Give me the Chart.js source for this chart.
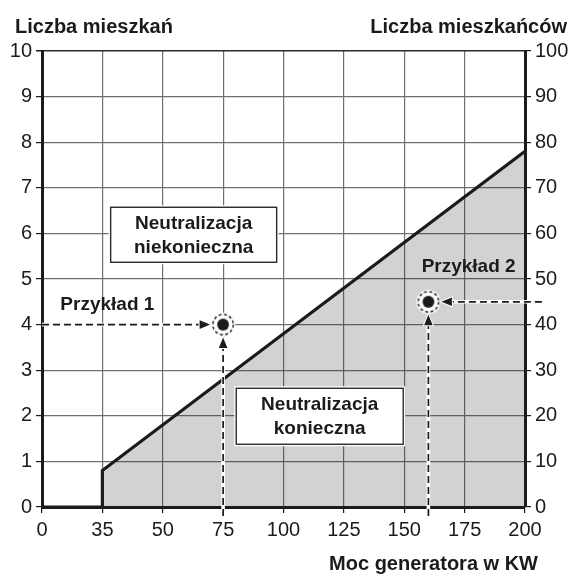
<!DOCTYPE html>
<html>
<head>
<meta charset="utf-8">
<script src="https://cdn.jsdelivr.net/npm/chart.js@4"></script>
<style>
  body { margin: 0; background: #fff; }
  #wrap { width: 574px; height: 576px; }
</style>
</head>
<body>
<div id="wrap"><canvas id="chart"></canvas></div>
<script>
// Gridlines sit every 25 units; the first one after 0 carries the 35 kW label
const xTicks = [0, 25, 50, 75, 100, 125, 150, 175, 200];
const xTickLabels = ['0', '35', '50', '75', '100', '125', '150', '175', '200'];

// Boundary between the two zones (left axis: liczba mieszkań)
const boundaryX = [0, 25, 25, 200];
const boundaryY = [0, 0, 0.8, 7.8];

// Worked examples and where their dashed arrows start
const exampleX = [75, 160];
const exampleY = [4, 4.5];
const exampleNames = ['Przykład 1', 'Przykład 2'];
const arrowFromX = [0, 207];
const arrowFromY = [-0.2, -0.2];

const zoneNames = [['Neutralizacja', 'niekonieczna'], ['Neutralizacja', 'konieczna']];

const FONT = "'Liberation Sans', Arial, Helvetica, sans-serif";
const INK = '#1b1b1b';
const GRID = '#6f6f6f';

function makeMarker() {
  const c = document.createElement('canvas');
  c.width = c.height = 28;
  const g = c.getContext('2d');
  g.fillStyle = '#fff';
  g.beginPath(); g.arc(14, 14, 12, 0, Math.PI * 2); g.fill();
  g.setLineDash([3, 2.4]);
  g.lineWidth = 1.4;
  g.strokeStyle = INK;
  g.beginPath(); g.arc(14, 14, 10.2, 0, Math.PI * 2); g.stroke();
  g.setLineDash([]);
  g.fillStyle = INK;
  g.beginPath(); g.arc(14, 14, 5.9, 0, Math.PI * 2); g.fill();
  return c;
}

function drawArrow(ctx, x0, y0, x1, y1) {
  const gap = 13, head = 10.5, half = 4.3;
  const len = Math.hypot(x1 - x0, y1 - y0);
  const ux = (x1 - x0) / len, uy = (y1 - y0) / len;
  const tx = x1 - ux * gap, ty = y1 - uy * gap;
  const bx = tx - ux * head, by = ty - uy * head;
  ctx.save();
  ctx.lineCap = 'butt';
  ctx.beginPath(); ctx.moveTo(x0, y0); ctx.lineTo(bx, by);
  ctx.strokeStyle = '#fff'; ctx.lineWidth = 3.6; ctx.stroke();
  ctx.setLineDash([7, 4]);
  ctx.strokeStyle = INK; ctx.lineWidth = 1.7; ctx.stroke();
  ctx.setLineDash([]);
  ctx.beginPath();
  ctx.moveTo(tx, ty);
  ctx.lineTo(bx - uy * half, by + ux * half);
  ctx.lineTo(bx + uy * half, by - ux * half);
  ctx.closePath();
  ctx.strokeStyle = '#fff'; ctx.lineWidth = 2; ctx.stroke();
  ctx.fillStyle = INK; ctx.fill();
  ctx.restore();
}

const arrowPlugin = {
  id: 'arrows',
  afterDatasetDraw(chart, args) {
    if (args.index !== 0) return;
    const { x, y } = chart.scales;
    exampleX.forEach((ex, i) => {
      const px = x.getPixelForValue(ex);
      const py = y.getPixelForValue(exampleY[i]);
      drawArrow(chart.ctx, x.getPixelForValue(arrowFromX[i]), py, px, py);
      drawArrow(chart.ctx, px, y.getPixelForValue(arrowFromY[i]), px, py);
    });
  }
};

function drawBox(ctx, cx, cy, w, h, lines) {
  ctx.save();
  ctx.fillStyle = '#fff';
  ctx.fillRect(cx - w / 2 - 2, cy - h / 2 - 2, w + 4, h + 4);
  ctx.strokeStyle = '#2a2a2a';
  ctx.lineWidth = 1.4;
  ctx.strokeRect(cx - w / 2, cy - h / 2, w, h);
  ctx.fillStyle = INK;
  ctx.font = `bold 19px ${FONT}`;
  ctx.textAlign = 'center';
  ctx.textBaseline = 'middle';
  ctx.fillText(lines[0], cx, cy - 11.5);
  ctx.fillText(lines[1], cx, cy + 12.5);
  ctx.restore();
}

const labelPlugin = {
  id: 'labels',
  afterDraw(chart) {
    const { ctx } = chart;
    const { x, y } = chart.scales;
    drawBox(ctx, x.getPixelForValue(62.8), y.getPixelForValue(5.97), 166, 55, zoneNames[0]);
    drawBox(ctx, x.getPixelForValue(115), y.getPixelForValue(1.99), 167, 56, zoneNames[1]);

    ctx.save();
    ctx.fillStyle = INK;
    ctx.textBaseline = 'middle';
    ctx.font = `bold 19px ${FONT}`;
    ctx.textAlign = 'left';
    ctx.fillText(exampleNames[0], x.getPixelForValue(7.6), y.getPixelForValue(4.44));
    ctx.fillText(exampleNames[1], x.getPixelForValue(157.2), y.getPixelForValue(5.27));

    ctx.font = `bold 20px ${FONT}`;
    ctx.fillText('Liczba mieszkań', 15, 27);
    ctx.textAlign = 'right';
    ctx.fillText('Liczba mieszkańców', 567, 27);
    ctx.fillText('Moc generatora w KW', 538, 564);
    ctx.restore();
  }
};

const tickFont = { family: FONT, size: 20 };

new Chart(document.getElementById('chart'), {
  type: 'line',
  data: {
    datasets: [
      {
        data: boundaryX.map((v, i) => ({ x: v, y: boundaryY[i] })),
        borderColor: INK,
        borderWidth: 3.2,
        borderJoinStyle: 'miter',
        backgroundColor: 'rgba(25, 30, 40, 0.2)',
        fill: 'origin',
        pointRadius: 0,
        tension: 0,
        order: 2
      },
      {
        data: exampleX.map((v, i) => ({ x: v, y: exampleY[i] })),
        showLine: false,
        pointStyle: makeMarker(),
        pointRadius: 14,
        order: 1,
        clip: false
      }
    ]
  },
  options: {
    responsive: true,
    maintainAspectRatio: false,
    animation: false,
    layout: { padding: { top: 51, left: 0, right: 0, bottom: 0 } },
    plugins: { legend: { display: false }, tooltip: { enabled: false } },
    scales: {
      x: {
        type: 'linear',
        min: 0,
        max: 200,
        afterBuildTicks: s => { s.ticks = xTicks.map(v => ({ value: v })); },
        afterFit: s => { s.height = 69; },
        grid: { color: GRID, lineWidth: 1.2, tickLength: 6, tickColor: INK },
        border: { color: INK, width: 3 },
        ticks: {
          callback: (v, i) => xTickLabels[i],
          font: tickFont,
          color: INK,
          padding: 5,
          maxRotation: 0,
          autoSkip: false
        }
      },
      y: {
        position: 'left',
        min: 0,
        max: 10,
        afterFit: s => { s.width = 42; },
        grid: {
          color: c => (c.tick && c.tick.value === 10 ? '#2a2a2a' : GRID),
          lineWidth: c => (c.tick && c.tick.value === 10 ? 1.5 : 1.2),
          tickLength: 6,
          tickColor: INK
        },
        border: { color: INK, width: 3 },
        ticks: { stepSize: 1, font: tickFont, color: INK, padding: 4 }
      },
      y2: {
        position: 'right',
        min: 0,
        max: 100,
        afterFit: s => { s.width = 49; },
        grid: { drawOnChartArea: false, tickLength: 6, color: INK, lineWidth: 1.2 },
        border: { color: INK, width: 3 },
        ticks: { stepSize: 10, font: tickFont, color: INK, padding: 4 }
      }
    }
  },
  plugins: [arrowPlugin, labelPlugin]
});
</script>
</body>
</html>
